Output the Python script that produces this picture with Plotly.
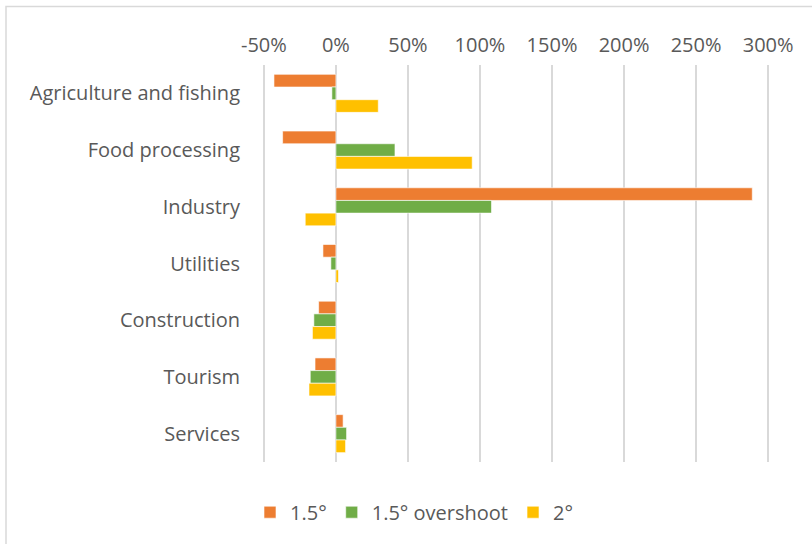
import plotly.graph_objects as go

sectors = ["Agriculture and fishing", "Food processing", "Industry", "Utilities",
           "Construction", "Tourism", "Services"]
scenario_names = ["1.5°", "1.5° overshoot", "2°"]
change_15 = [-0.43, -0.37, 2.89, -0.09, -0.12, -0.145, 0.05]
change_15_over = [-0.028, 0.41, 1.08, -0.035, -0.153, -0.178, 0.074]
change_2 = [0.294, 0.946, -0.213, 0.018, -0.163, -0.187, 0.067]
tick_vals = [-0.5, 0, 0.5, 1.0, 1.5, 2.0, 2.5, 3.0]
tick_text = ["-50%", "0%", "50%", "100%", "150%", "200%", "250%", "300%"]
colors = ["#ED7D31", "#70AD47", "#FFC000"]

W, H = 812, 544
L, R, T, B = 261, 41, 65, 78
pw, ph = W - L - R, H - T - B

fig = go.Figure()
for name, vals, col in zip(scenario_names, [change_15, change_15_over, change_2], colors):
    fig.add_trace(go.Bar(
        y=sectors, x=vals, name=name, orientation="h",
        marker=dict(color=col, line=dict(color="white", width=0.6)),
    ))

font = dict(family="'Open Sans', sans-serif", size=20, color="#595959")

fig.update_layout(
    width=W, height=H,
    margin=dict(l=L, r=R, t=T, b=B, pad=0),
    paper_bgcolor="white", plot_bgcolor="white",
    barmode="group", bargap=0.33, bargroupgap=0,
    font=font,
    showlegend=True,
    legend=dict(orientation="h", x=(250 - L) / pw, xanchor="left",
                y=-(497 - (T + ph)) / ph, yanchor="top",
                font=font, itemwidth=30, traceorder="normal"),
    xaxis=dict(range=[-0.52, 3.02], side="top", tickvals=tick_vals, ticktext=tick_text,
               showgrid=True, gridcolor="#D9D9D9", gridwidth=1.5,
               zeroline=True, zerolinecolor="#D9D9D9", zerolinewidth=1.5,
               showline=False, ticks="", ticklabelstandoff=8, fixedrange=True),
    yaxis=dict(autorange="reversed", showgrid=False, ticks="", showline=False,
               ticklabelstandoff=20, fixedrange=True),
    shapes=[dict(type="rect", xref="paper", yref="paper",
                 x0=(6 - L) / pw, x1=(W + 50 - L) / pw,
                 y0=-(H + 50 - T - ph) / ph, y1=1 + (T - 6) / ph,
                 line=dict(color="#D9D9D9", width=1.5), fillcolor="rgba(0,0,0,0)",
                 layer="below")],
)

fig.write_html("out.html")
